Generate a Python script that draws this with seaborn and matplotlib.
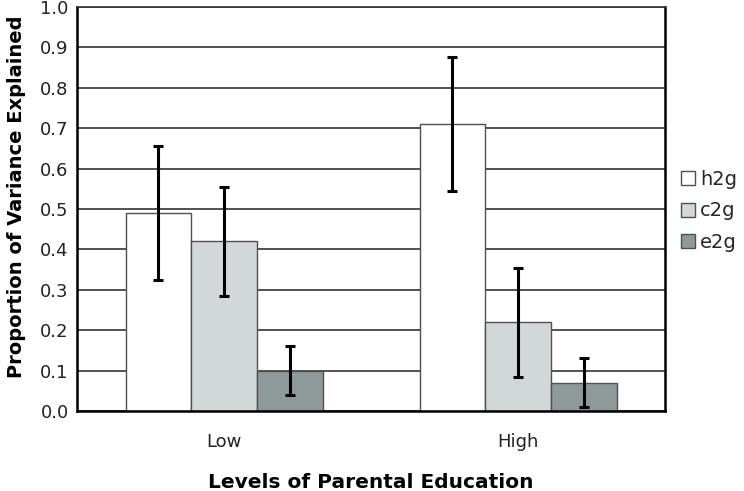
import matplotlib
matplotlib.use("Agg")
import matplotlib.pyplot as plt
import pandas as pd
import seaborn as sns

# values
levels = ["Low", "High"]
components = ["h2g", "c2g", "e2g"]
low_vals = [0.49, 0.42, 0.10]
high_vals = [0.71, 0.22, 0.07]
low_lo = [0.325, 0.285, 0.04]
low_hi = [0.655, 0.555, 0.16]
high_lo = [0.545, 0.085, 0.01]
high_hi = [0.875, 0.355, 0.13]

colors = ["#ffffff", "#d1d9d8", "#8b9c9b"]

df = pd.DataFrame({
    "level": [levels[0]] * 3 + [levels[1]] * 3,
    "component": components * 2,
    "value": low_vals + high_vals,
    "lo": low_lo + high_lo,
    "hi": low_hi + high_hi,
})

sns.set_style("white")
plt.rcParams["font.family"] = ["DejaVu Sans"]

fig, ax = plt.subplots(figsize=(7.44, 4.91), dpi=100)
fig.subplots_adjust(left=0.1035, right=0.894, top=0.986, bottom=0.163)

ax.set_axisbelow(True)
ax.yaxis.grid(True, color="#333333", linewidth=1.2)

sns.barplot(data=df, x="level", y="value", hue="component", order=levels,
            hue_order=components, palette=colors, width=0.67,
            edgecolor="#505050", linewidth=1.0, errorbar=None, ax=ax)

# error bars at the bar centres
for comp, cont in zip(components, ax.containers):
    sub = df[df["component"] == comp].set_index("level").loc[levels]
    for bar, (_, row) in zip(cont.patches, sub.iterrows()):
        xc = bar.get_x() + bar.get_width() / 2
        ax.errorbar(xc, row["value"],
                    yerr=[[row["value"] - row["lo"]], [row["hi"] - row["value"]]],
                    fmt="none", ecolor="black", elinewidth=2.2, capsize=3.5,
                    capthick=2.2, zorder=5)

ax.set_ylim(0, 1.0)
ax.set_xlim(-0.5, 1.5)
ax.set_yticks([i / 10 for i in range(11)])
ax.set_yticklabels([f"{i / 10:.1f}" for i in range(11)])
ax.tick_params(axis="both", length=0, labelsize=13, colors="#222222")
ax.tick_params(axis="x", pad=16)
ax.tick_params(axis="y", pad=6)

for side in ["left", "right", "bottom", "top"]:
    ax.spines[side].set_visible(True)
    ax.spines[side].set_color("black")
    ax.spines[side].set_linewidth(1.8)
ax.spines["top"].set_color("#333333")
ax.spines["top"].set_linewidth(1.2)

ax.set_xlabel("Levels of Parental Education", fontsize=14.5, fontweight="bold",
              labelpad=16, color="black")
ax.set_ylabel("Proportion of Variance Explained", fontsize=14, fontweight="bold",
              color="black")
ax.yaxis.set_label_coords(-0.087, 0.53)

ax.legend(loc="center left", bbox_to_anchor=(1.0, 0.495), frameon=False,
          fontsize=14, handlelength=0.75, handleheight=0.75, handletextpad=0.25,
          labelspacing=0.65, borderaxespad=0.4)

plt.savefig("out.png", dpi=100)
